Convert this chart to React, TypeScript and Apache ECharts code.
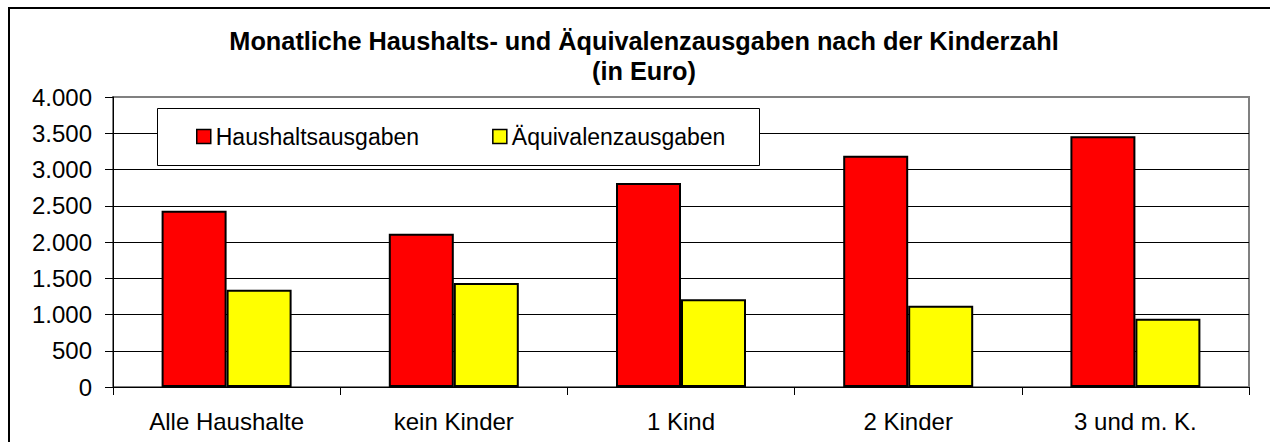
import React, { useEffect, useRef } from "react";
import * as echarts from "echarts";

const categories = ["Alle Haushalte", "kein Kinder", "1 Kind", "2 Kinder", "3 und m. K."];
const haushaltsausgaben = [2430, 2115, 2815, 3190, 3460];
const aequivalenzausgaben = [1340, 1435, 1210, 1120, 940];
const seriesNames = ["Haushaltsausgaben", "Äquivalenzausgaben"];
const titleLines = ["Monatliche Haushalts- und Äquivalenzausgaben nach der Kinderzahl", "(in Euro)"];

const FONT = "'Liberation Sans', Arial, Helvetica, sans-serif";

function fmt(v: number): string {
  if (v >= 1000) {
    const th = Math.floor(v / 1000);
    const rest = String(v % 1000).padStart(3, "0");
    return th + "." + rest;
  }
  return String(v);
}

export default function App() {
  const ref = useRef<HTMLDivElement>(null);
  useEffect(() => {
    if (!ref.current) return;
    const chart = echarts.init(ref.current, undefined, { renderer: "svg" });
    const splitColors = ["#000", "#000", "#000", "#000", "#000", "#000", "#000", "#000", "#808080"];
    chart.setOption({
      animation: false,
      textStyle: { fontFamily: FONT },
      grid: {
        left: 113,
        top: 97,
        right: 21,
        bottom: 55,
        show: true,
        borderColor: "#808080",
        borderWidth: 2,
        backgroundColor: "transparent",
      },
      xAxis: {
        type: "category",
        data: categories,
        axisLine: { show: true, lineStyle: { color: "#000", width: 1 } },
        axisTick: { show: true, length: 8, lineStyle: { color: "#000" } },
        axisLabel: { color: "#000", fontSize: 24, margin: 22, fontFamily: FONT },
        splitLine: { show: false },
      },
      yAxis: {
        type: "value",
        min: 0,
        max: 4000,
        interval: 500,
        axisLine: { show: true, lineStyle: { color: "#000", width: 1 } },
        axisTick: { show: true, length: 8, lineStyle: { color: "#000" } },
        axisLabel: { color: "#000", fontSize: 24, margin: 21, fontFamily: FONT, formatter: (v: number) => fmt(v) },
        splitLine: { show: true, lineStyle: { color: splitColors, width: 1 } },
      },
      legend: {
        data: seriesNames,
        left: 196,
        top: 125,
        padding: 0,
        itemWidth: 14,
        itemHeight: 14,
        itemGap: 73,
        icon: "rect",
        z: 20,
        itemStyle: { borderColor: "#000", borderWidth: 1.5 },
        textStyle: { color: "#000", fontSize: 23, fontFamily: FONT },
      },
      series: [
        {
          type: "bar",
          name: seriesNames[0],
          data: haushaltsausgaben,
          barWidth: 65,
          barGap: "0%",
          itemStyle: { color: "#FF0000", borderColor: "#000", borderWidth: 2 },
        },
        {
          type: "bar",
          name: seriesNames[1],
          data: aequivalenzausgaben,
          barWidth: 65,
          barGap: "0%",
          itemStyle: { color: "#FFFF00", borderColor: "#000", borderWidth: 2 },
        },
      ],
      graphic: [
        {
          type: "rect",
          z: 0,
          silent: true,
          shape: { x: 9, y: 8, width: 1400, height: 600 },
          style: { fill: "none", stroke: "#000", lineWidth: 2 },
        },
        {
          type: "rect",
          z: 10,
          silent: true,
          shape: { x: 157.5, y: 108.5, width: 602, height: 57 },
          style: { fill: "#fff", stroke: "#000", lineWidth: 1 },
        },
        {
          type: "text",
          z: 10,
          x: 644,
          y: 41,
          style: {
            text: titleLines[0],
            fill: "#000",
            font: "bold 25.3px " + FONT,
            align: "center",
            verticalAlign: "middle",
          },
        },
        {
          type: "text",
          z: 10,
          x: 644,
          y: 71,
          style: {
            text: titleLines[1],
            fill: "#000",
            font: "bold 25.3px " + FONT,
            align: "center",
            verticalAlign: "middle",
          },
        },
      ],
    });
    return () => chart.dispose();
  }, []);
  return (
    <div
      ref={ref}
      style={{ position: "absolute", left: 0, top: 0, width: 1270, height: 442, background: "#fff" }}
    />
  );
}
